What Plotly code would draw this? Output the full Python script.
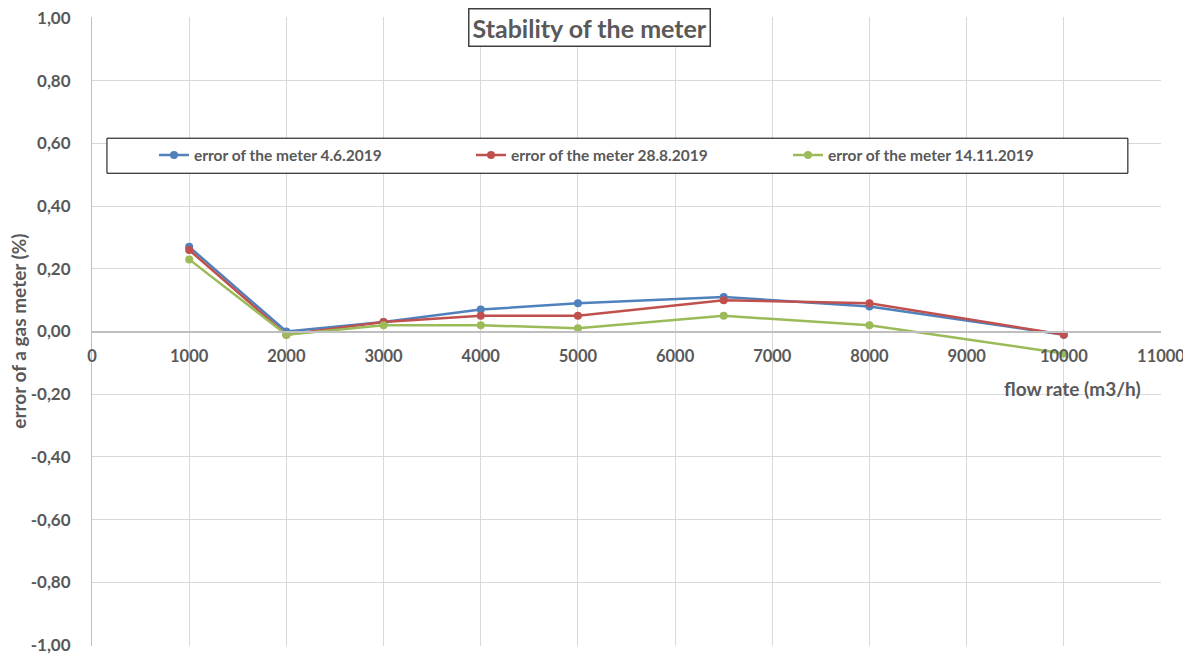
import plotly.graph_objects as go

flow = [1000, 2000, 3000, 4000, 5000, 6500, 8000, 10000]
err_jun = [0.27, 0.00, 0.03, 0.07, 0.09, 0.11, 0.08, -0.01]
err_aug = [0.26, -0.01, 0.03, 0.05, 0.05, 0.10, 0.09, -0.01]
err_nov = [0.23, -0.01, 0.02, 0.02, 0.01, 0.05, 0.02, -0.07]
names = ["error of the meter 4.6.2019", "error of the meter 28.8.2019", "error of the meter 14.11.2019"]
colors = ["#4f81bd", "#c0504d", "#9bbb59"]
x_ticks = [0, 1000, 2000, 3000, 4000, 5000, 6000, 7000, 8000, 9000, 10000, 11000]
x_ticktext = ["0", "1000", "2000", "3000", "4000", "5000", "6000", "7000", "8000", "9000", "10000", "11000"]
y_ticks = [-1.0, -0.8, -0.6, -0.4, -0.2, 0.0, 0.2, 0.4, 0.6, 0.8, 1.0]
y_ticktext = ["-1,00", "-0,80", "-0,60", "-0,40", "-0,20", "0,00", "0,20", "0,40", "0,60", "0,80", "1,00"]

FONT = "Lato"
GRAY = "#595959"

fig = go.Figure()
for ys, nm, c in zip([err_jun, err_aug, err_nov], names, colors):
    fig.add_trace(go.Scatter(x=flow, y=ys, name=nm, mode="lines+markers",
                             line=dict(color=c, width=2.5),
                             marker=dict(color=c, size=8)))

fig.update_layout(
    width=1191, height=655,
    margin=dict(l=84, r=38, t=9, b=17, autoexpand=False),
    paper_bgcolor="white", plot_bgcolor="white",
    font=dict(family=FONT, color=GRAY, size=13),
    showlegend=True,
    legend=dict(orientation="h", x=0.058, xanchor="left", y=0.78, yanchor="middle",
                bgcolor="rgba(0,0,0,0)", entrywidth=272, entrywidthmode="pixels",
                font=dict(family=FONT, size=15.5, color=GRAY, weight="bold"),
                itemwidth=30),
    xaxis=dict(range=[0, 11000], tickvals=x_ticks, ticktext=x_ticktext,
               showgrid=True, gridcolor="#d9d9d9", gridwidth=1, automargin=False,
               anchor="free", position=0.5, showline=True, linecolor="#bfbfbf", linewidth=1.5,
               zeroline=False, ticks="", ticklabelstandoff=10, ticklabeloverflow="allow",
               tickfont=dict(family=FONT, size=16.5, color=GRAY, weight="bold")),
    yaxis=dict(range=[-1.003, 1.003], tickvals=y_ticks, ticktext=y_ticktext, domain=[0, 1],
               showgrid=True, gridcolor="#d9d9d9", gridwidth=1, automargin=False,
               zeroline=False, showline=True, linecolor="#bfbfbf", linewidth=1,
               ticks="", ticklabelstandoff=17, ticklabeloverflow="allow",
               tickfont=dict(family=FONT, size=17, color=GRAY, weight="bold")),
    shapes=[dict(type="rect", xref="paper", yref="paper", x0=0.014, x1=0.969, y0=0.7516, y1=0.8073,
                 line=dict(color="#000000", width=1), fillcolor="white", layer="above")],
    annotations=[
        dict(text="Stability of the meter", xref="paper", yref="paper", x=0.4655, y=0.984,
             xanchor="center", yanchor="middle",
             showarrow=False, font=dict(family=FONT, size=25, color=GRAY, weight="bold"),
             bordercolor="#404040", borderwidth=1.5, bgcolor="white", borderpad=3),
        dict(text="error of a gas meter (%)", xref="paper", yref="paper", x=-0.069, y=0.5,
             xanchor="center", yanchor="middle",
             textangle=-90, showarrow=False,
             font=dict(family=FONT, size=19, color=GRAY, weight="bold")),
        dict(text="flow rate (m3/h)", xref="paper", yref="paper", x=0.917, y=0.409,
             xanchor="center", yanchor="middle",
             showarrow=False, font=dict(family=FONT, size=19, color=GRAY, weight="bold")),
    ],
)

fig.write_html("out.html")
